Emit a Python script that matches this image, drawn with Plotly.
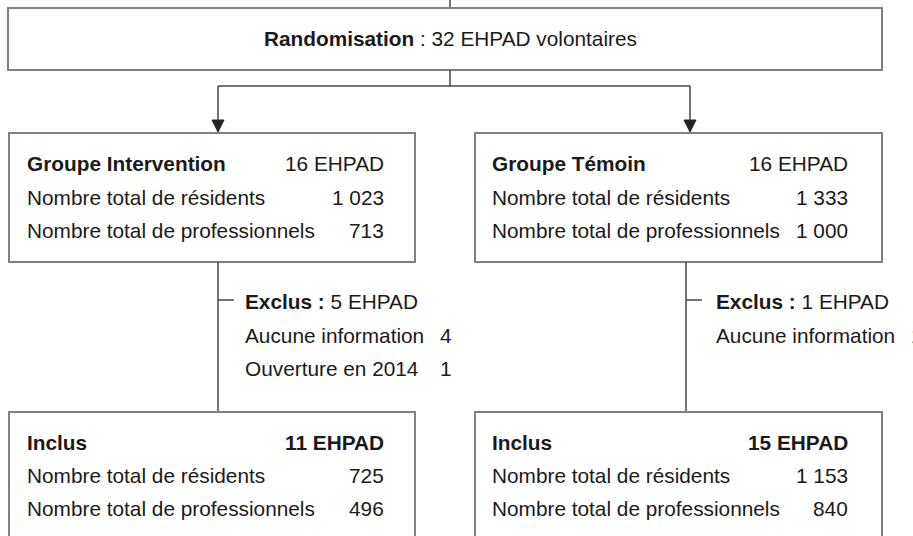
import plotly.graph_objects as go

# ---------------- data ----------------
total_ehpad = 32
group_names = ["Groupe Intervention", "Groupe Témoin"]
group_ehpad = [16, 16]
group_residents = [1023, 1333]
group_professionals = [713, 1000]
excluded_ehpad = [5, 1]
excl_reasons = [["Aucune information", "Ouverture en 2014"], ["Aucune information"]]
excl_counts = [[4, 1], [1]]
included_ehpad = [11, 15]
incl_residents = [725, 1153]
incl_professionals = [496, 840]
row_labels = ["Nombre total de résidents", "Nombre total de professionnels"]


def fr(v):
    return f"{v:,}".replace(",", " ")


# ---------------- layout geometry ----------------
W, H = 913, 536
FONT = "Liberation Sans, Arial, sans-serif"
FS = 20.8
TXT = "#1a1a1a"
BOX = "#808080"
LINE = "#444444"

box_x = [(9, 415), (475, 882)]
text_left = [25, 490]
text_right = [386, 850]
arrow_x = [218, 690]
stem_x = [218, 686]
excl_x = [243, 714]
count_x = [438, 909]

fig = go.Figure()
fig.add_trace(go.Scatter(x=[0, W], y=[0, H], mode="markers",
                         marker=dict(opacity=0), hoverinfo="skip", showlegend=False))

shapes = []
ann = []


def rect(x0, y0, x1, y1):
    shapes.append(dict(type="rect", xref="x", yref="y", x0=x0, y0=y0, x1=x1, y1=y1,
                       line=dict(color=BOX, width=2), fillcolor="white", layer="below"))


def line(x0, y0, x1, y1):
    shapes.append(dict(type="line", xref="x", yref="y", x0=x0, y0=y0, x1=x1, y1=y1,
                       line=dict(color=LINE, width=1.5), layer="below"))


def txt(x, y, s, anchor="left"):
    ann.append(dict(x=x, y=y, xref="x", yref="y", text=s, showarrow=False,
                    xanchor=anchor, yanchor="middle",
                    font=dict(family=FONT, size=FS, color=TXT)))


# top box
line(450, 0, 450, 8)
rect(8, 8, 882, 70)
txt(450, 38, f"<b>Randomisation</b> : {total_ehpad} EHPAD volontaires", "center")

# connectors
line(450, 70, 450, 86)
line(arrow_x[0], 86, arrow_x[1], 86)
for ax in arrow_x:
    line(ax, 86, ax, 122)
    shapes.append(dict(type="path", xref="x", yref="y",
                       path=f"M {ax-6},120 L {ax+6},120 L {ax},132 Z",
                       fillcolor="#222222", line=dict(color="#222222", width=1)))

rows_top = [163, 197, 230]
rows_excl = [301, 335, 368]
rows_bot = [442, 475, 508]

for i in range(2):
    x0, x1 = box_x[i]
    # group box
    rect(x0, 133, x1, 262)
    txt(text_left[i], rows_top[0], f"<b>{group_names[i]}</b>")
    txt(text_right[i], rows_top[0], f"{group_ehpad[i]} EHPAD", "right")
    txt(text_left[i], rows_top[1], row_labels[0])
    txt(text_right[i], rows_top[1], fr(group_residents[i]), "right")
    txt(text_left[i], rows_top[2], row_labels[1])
    txt(text_right[i], rows_top[2], fr(group_professionals[i]), "right")

    # exclusion stem
    sx = stem_x[i]
    line(sx, 262, sx, 412)
    line(sx, 300, sx + 16, 300)
    txt(excl_x[i], rows_excl[0], f"<b>Exclus :</b> {excluded_ehpad[i]} EHPAD")
    for k, (r, c) in enumerate(zip(excl_reasons[i], excl_counts[i])):
        txt(excl_x[i], rows_excl[k + 1], r)
        txt(count_x[i], rows_excl[k + 1], str(c), "left")

    # included box
    rect(x0, 412, x1, 560)
    txt(text_left[i], rows_bot[0], "<b>Inclus</b>")
    txt(text_right[i], rows_bot[0], f"<b>{included_ehpad[i]} EHPAD</b>", "right")
    txt(text_left[i], rows_bot[1], row_labels[0])
    txt(text_right[i], rows_bot[1], fr(incl_residents[i]), "right")
    txt(text_left[i], rows_bot[2], row_labels[1])
    txt(text_right[i], rows_bot[2], fr(incl_professionals[i]), "right")

fig.update_layout(
    width=W, height=H,
    margin=dict(l=0, r=0, t=0, b=0),
    paper_bgcolor="white", plot_bgcolor="white",
    xaxis=dict(range=[0, W], visible=False, fixedrange=True),
    yaxis=dict(range=[H, 0], visible=False, fixedrange=True),
    shapes=shapes, annotations=ann, showlegend=False,
)

fig.write_html("out.html", config={"displayModeBar": False},
               post_script="document.body.style.margin='0';document.body.style.overflow='hidden';")
